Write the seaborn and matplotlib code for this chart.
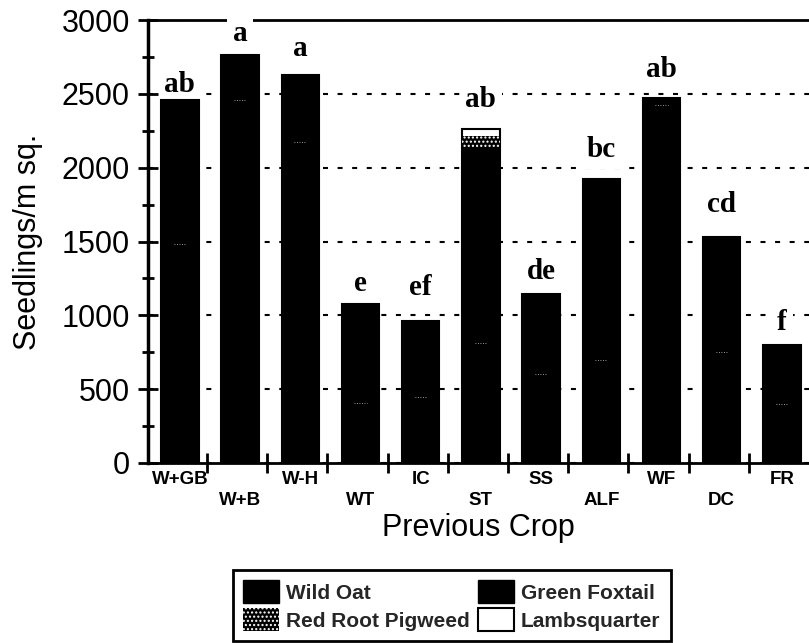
import numpy as np
import matplotlib
matplotlib.use("Agg")
import matplotlib.pyplot as plt
import seaborn as sns
from matplotlib.patches import Patch
from matplotlib.ticker import MultipleLocator

# Weed seedling counts by previous crop (seedlings per square metre)
crops = ["W+GB", "W+B", "W-H", "WT", "IC", "ST", "SS", "ALF", "WF", "DC", "FR"]
wild_oat = [1480, 2455, 2175, 405, 450, 815, 600, 700, 2425, 750, 400]
green_foxtail = [975, 305, 450, 675, 515, 1325, 545, 1225, 45, 780, 400]
red_root_pigweed = [0, 0, 0, 0, 0, 75, 0, 0, 0, 0, 0]
lambsquarter = [0, 0, 0, 0, 0, 45, 0, 0, 0, 0, 0]
letters = ["ab", "a", "a", "e", "ef", "ab", "de", "bc", "ab", "cd", "f"]

# vertical gap (pixels) between each bar top and its letter group
letter_gap_px = [8, 14, 19, 13, 26, 22, 15, 22, 21, 25, 15]

sns.set_theme(style="white")
plt.rcParams["font.family"] = ["Liberation Sans", "DejaVu Sans"]
plt.rcParams["hatch.linewidth"] = 1.0

W, H = 809, 643
fig = plt.figure(figsize=(W / 100, H / 100), dpi=100)
ax = fig.add_axes([148 / W, 1 - 463 / H, (W - 148) / W, 443 / H])

wo = np.array(wild_oat, float)
gf = np.array(green_foxtail, float)
pw = np.array(red_root_pigweed, float)
lq = np.array(lambsquarter, float)
c1 = wo
c2 = c1 + gf
c3 = c2 + pw
c4 = c3 + lq

bar_w = 0.62
# cumulative layers, drawn from the top segment down
sns.barplot(x=crops, y=c4, order=crops, color="white", saturation=1,
            width=bar_w, edgecolor="black", linewidth=1.5, errorbar=None,
            ax=ax, zorder=3)
sns.barplot(x=crops, y=c3, order=crops, color="black", saturation=1,
            width=bar_w, edgecolor="white", linewidth=0, hatch="....",
            errorbar=None, ax=ax, zorder=3)
sns.barplot(x=crops, y=c2, order=crops, color="black", saturation=1,
            width=bar_w, edgecolor="black", linewidth=0, errorbar=None,
            ax=ax, zorder=3)
sns.barplot(x=crops, y=c1, order=crops, color="black", saturation=1,
            width=bar_w, edgecolor="black", linewidth=0, errorbar=None,
            ax=ax, zorder=3)

# faint boundary between wild oat and green foxtail
xs = np.arange(len(crops))
ax.hlines(c1, xs - 0.1, xs + 0.1, colors="white", linestyles=(0, (1, 2)),
          linewidth=0.6, alpha=0.8, zorder=4)

ax.set_xlim(-0.53, 10.45)
ax.set_ylim(0, 3000)

# category labels, alternating rows
ax.set_xticks(xs)
ax.set_xticklabels([c if i % 2 == 0 else "\n" + c for i, c in enumerate(crops)],
                   fontsize=13.5, fontweight="bold", linespacing=1.25)
ax.tick_params(axis="x", which="major", length=0, pad=6, colors="black")
ax.set_xticks(np.arange(len(crops) - 1) + 0.45, minor=True)
ax.tick_params(axis="x", which="minor", direction="inout", length=14, width=2,
               bottom=True, color="black")

ax.yaxis.set_major_locator(MultipleLocator(500))
ax.yaxis.set_minor_locator(MultipleLocator(250))
ax.tick_params(axis="y", which="major", direction="inout", length=14, width=2,
               labelsize=22, pad=6, left=True, color="black", labelcolor="black")
ax.tick_params(axis="y", which="minor", direction="inout", length=8, width=2,
               left=True, color="black")

ax.grid(False)
ax.yaxis.grid(True, which="major", color="black", linewidth=1.5,
              linestyle=(0, (2.4, 4.6)))
ax.set_axisbelow(True)

for side in ["left", "top", "bottom"]:
    ax.spines[side].set_visible(True)
    ax.spines[side].set_color("black")
ax.spines["left"].set_linewidth(2.5)
ax.spines["top"].set_linewidth(2)
ax.spines["bottom"].set_linewidth(2)
ax.spines["right"].set_visible(False)

ax.set_ylabel("Seedlings/m sq.", fontsize=22, color="black")
ax.yaxis.set_label_coords(-0.182, 0.5)
ax.yaxis.label.set_verticalalignment("center")
ax.set_xlabel("Previous Crop", fontsize=22, color="black")
ax.xaxis.set_label_coords(0.5, (463 - 528) / 443)
ax.xaxis.label.set_verticalalignment("center")

# significance letters above each bar
for i, (lab, top) in enumerate(zip(letters, c4)):
    ax.annotate(lab, xy=(i, top), xytext=(0, letter_gap_px[i] * 0.72),
                textcoords="offset points", ha="center", va="baseline",
                fontsize=21, fontweight="bold", family="Liberation Serif",
                color="black", zorder=2.8, annotation_clip=False,
                bbox=dict(boxstyle="square,pad=0.2", fc="white", ec="none"))

handles = [
    Patch(facecolor="black", edgecolor="black", label="Wild Oat"),
    Patch(facecolor="black", edgecolor="white", linewidth=0, hatch="....",
          label="Red Root Pigweed"),
    Patch(facecolor="black", edgecolor="black", label="Green Foxtail"),
    Patch(facecolor="white", edgecolor="black", linewidth=1.5, label="Lambsquarter"),
]
leg = ax.legend(handles=handles, ncol=2, loc="upper left",
                bbox_to_anchor=(233 / W, 1 - 570 / H), bbox_transform=fig.transFigure,
                borderaxespad=0, fancybox=False, framealpha=1, edgecolor="black",
                prop={"family": "Liberation Sans", "weight": "bold", "size": 15},
                handlelength=1.7, handleheight=1.3, handletextpad=0.35,
                columnspacing=0.4, labelspacing=0.25, borderpad=0.5)
leg.get_frame().set_linewidth(2)

fig.savefig("out.png", dpi=100)
